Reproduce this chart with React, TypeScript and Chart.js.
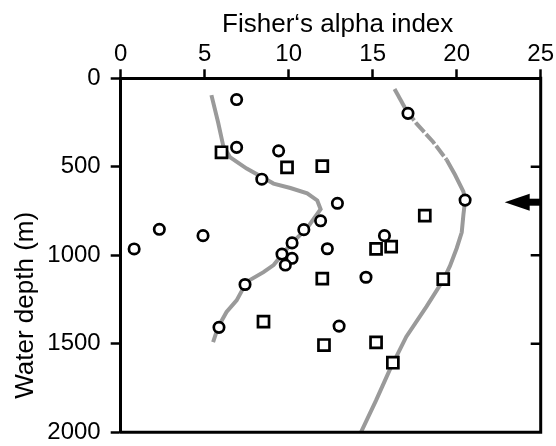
import React, { useEffect, useRef } from "react";
import { Chart, registerables } from "chart.js";

Chart.register(...registerables);

const xTickValues = [0, 5, 10, 15, 20, 25];
const yTickValues = [0, 500, 1000, 1500, 2000];
const rightTickValues = [500, 1000, 1500];

const xTitle = "Fisher‘s alpha index";
const yTitle = "Water depth (m)";

const circleAlpha = [6.9, 6.9, 9.4, 8.4, 11.9, 10.9, 10.2, 9.6, 10.2, 9.8, 7.4, 5.85, 2.3, 4.9, 0.8, 12.9, 12.3, 15.7, 14.6, 13.0, 20.5, 17.1];
const circleDepth = [120, 390, 410, 570, 805, 855, 930, 993, 1017, 1055, 1165, 1407, 853, 889, 964, 706, 963, 889, 1124, 1400, 688, 198];

const squareAlpha = [6.0, 9.9, 12.0, 18.1, 15.2, 16.1, 19.2, 12.0, 8.5, 12.1, 15.2, 16.2];
const squareDepth = [418, 503, 496, 776, 964, 951, 1134, 1132, 1375, 1507, 1492, 1607];

const leftCurveAlpha = [5.4, 5.8, 6.1, 6.5, 7.5, 9.1, 10.1, 11.1, 11.7, 11.9, 11.1, 10.1, 9.1, 8.5, 7.5, 6.9, 6.3, 5.8, 5.5];
const leftCurveDepth = [95, 250, 380, 445, 510, 595, 620, 650, 690, 740, 845, 940, 1055, 1095, 1150, 1255, 1320, 1405, 1490];

const rightCurveAlpha = [16.3, 17.0, 17.6, 18.6, 19.4, 19.9, 20.4, 20.5, 20.4, 20.3, 20.0, 19.6, 19.2, 18.2, 17.0, 16.0, 15.2, 14.3];
const rightCurveDepth = [60, 180, 255, 360, 460, 545, 640, 690, 770, 870, 960, 1060, 1140, 1290, 1460, 1650, 1820, 2000];

const arrowDepth = 700;

const FONT = "'Liberation Sans', Arial, Helvetica, sans-serif";

function pts(xs: number[], ys: number[]) {
  return xs.map((x, i) => ({ x, y: ys[i] }));
}

const framePlugin = {
  id: "frameAndArrow",
  afterDraw(chart: any) {
    const { ctx, chartArea, scales } = chart;
    const { left, right, top, bottom } = chartArea;
    ctx.save();
    ctx.strokeStyle = "#000";
    ctx.lineWidth = 3;
    ctx.beginPath();
    ctx.moveTo(right, top - 1.5);
    ctx.lineTo(right, bottom + 1.5);
    ctx.moveTo(left - 1.5, bottom);
    ctx.lineTo(right + 1.5, bottom);
    ctx.stroke();
    ctx.lineWidth = 2.5;
    ctx.beginPath();
    rightTickValues.forEach((v) => {
      const y = scales.y.getPixelForValue(v);
      ctx.moveTo(right - 10, y);
      ctx.lineTo(right, y);
    });
    ctx.stroke();
    const ay = scales.y.getPixelForValue(arrowDepth);
    ctx.fillStyle = "#000";
    ctx.fillRect(right - 12, ay - 3.5, 12, 7);
    ctx.beginPath();
    ctx.moveTo(right - 36, ay);
    ctx.lineTo(right - 11, ay - 8.5);
    ctx.lineTo(right - 11, ay + 8.5);
    ctx.closePath();
    ctx.fill();

    // axis titles
    ctx.font = `26px ${FONT}`;
    ctx.textAlign = "center";
    ctx.textBaseline = "alphabetic";
    ctx.fillText(xTitle, (left + right) / 2 + 7, 31.5);
    ctx.translate(33, (top + bottom) / 2 + 50);
    ctx.rotate(-Math.PI / 2);
    ctx.fillText(yTitle, 0, 0);
    ctx.restore();
  },
};

export default function App() {
  const ref = useRef<HTMLCanvasElement | null>(null);
  useEffect(() => {
    if (!ref.current) return;
    const chart = new Chart(ref.current, {
      type: "scatter",
      data: {
        datasets: [
          {
            label: "circles",
            data: pts(circleAlpha, circleDepth),
            pointStyle: "circle",
            pointRadius: 5.2,
            borderWidth: 2.7,
            borderColor: "#000",
            backgroundColor: "#fff",
            order: 0,
          },
          {
            label: "squares",
            data: pts(squareAlpha, squareDepth),
            pointStyle: "rect",
            pointRadius: 7.8,
            borderWidth: 2.7,
            borderColor: "#000",
            backgroundColor: "#fff",
            order: 1,
          },
          {
            label: "left curve",
            data: pts(leftCurveAlpha, leftCurveDepth),
            showLine: true,
            pointRadius: 0,
            borderColor: "#9a9a9a",
            borderWidth: 4,
            order: 2,
          },
          {
            label: "right curve",
            data: pts(rightCurveAlpha, rightCurveDepth),
            showLine: true,
            pointRadius: 0,
            borderColor: "#9a9a9a",
            borderWidth: 4,
            order: 3,
            segment: {
              borderDash: (c: any) =>
                c.p0.parsed.y >= 180 && c.p0.parsed.y < 460 ? [13, 2.5] : undefined,
            },
          },
        ] as any,
      },
      options: {
        animation: false,
        responsive: true,
        maintainAspectRatio: false,
        layout: { padding: { left: 0, top: 0, right: 15.3, bottom: 13.7 } },
        plugins: { legend: { display: false }, tooltip: { enabled: false } },
        scales: {
          x: {
            type: "linear",
            position: "top",
            min: 0,
            max: 25,
            afterBuildTicks: (s: any) => {
              s.ticks = xTickValues.map((v) => ({ value: v }));
            },
            afterFit: (s: any) => {
              s.height = 78.3;
              s.paddingLeft = 0;
              s.paddingRight = 0;
            },
            ticks: {
              color: "#000",
              font: { family: FONT, size: 24 },
              padding: 1,
              maxRotation: 0,
              callback: (v: any) => String(v),
            },
            grid: {
              drawOnChartArea: false,
              drawTicks: true,
              tickLength: 9,
              tickWidth: 2.5,
              color: "#000",
            },
            border: { display: true, width: 3, color: "#000" },
            title: { display: false },
          },
          y: {
            type: "linear",
            position: "left",
            reverse: true,
            min: 0,
            max: 2000,
            afterBuildTicks: (s: any) => {
              s.ticks = yTickValues.map((v) => ({ value: v }));
            },
            afterFit: (s: any) => {
              s.width = 120.7;
              s.paddingTop = 0;
              s.paddingBottom = 0;
            },
            ticks: {
              color: "#000",
              font: { family: FONT, size: 24 },
              padding: 10,
              callback: (v: any) => String(v),
            },
            grid: {
              drawOnChartArea: false,
              drawTicks: true,
              tickLength: 10,
              tickWidth: 2.5,
              color: "#000",
            },
            border: { display: true, width: 3, color: "#000" },
            title: { display: false },
          },
        },
      } as any,
      plugins: [framePlugin],
    });
    return () => chart.destroy();
  }, []);
  return (
    <div style={{ position: "absolute", left: 0, top: 0, width: 556, height: 446 }}>
      <canvas ref={ref} />
    </div>
  );
}
